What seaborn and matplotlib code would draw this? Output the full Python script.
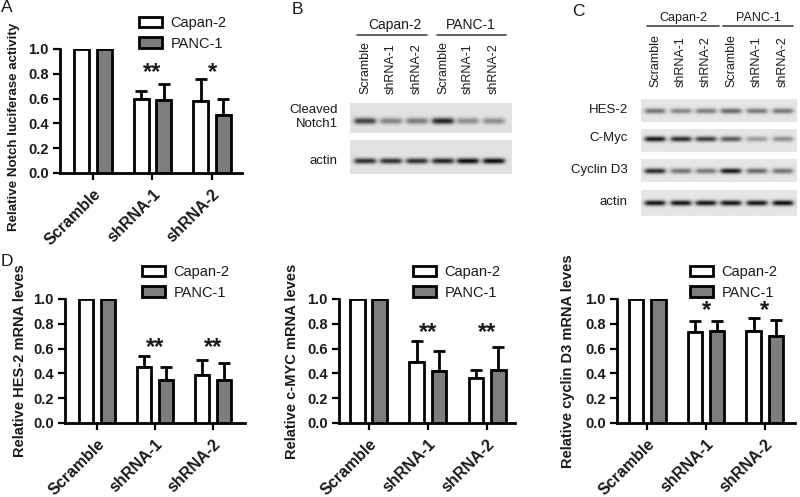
import numpy as np
import pandas as pd
import matplotlib
matplotlib.use("Agg")
import matplotlib.pyplot as plt
import seaborn as sns

# ---------------- data ----------------
groups = ["Scramble", "shRNA-1", "shRNA-2"]
lines = ["Capan-2", "PANC-1"]

notch_capan = [1.00, 0.60, 0.58]
notch_capan_sd = [0.0, 0.06, 0.18]
notch_panc = [1.00, 0.59, 0.47]
notch_panc_sd = [0.0, 0.13, 0.13]
notch_stars = ["", "**", "*"]
notch_star_y = [0, 0.81, 0.81]

hes_capan = [1.00, 0.45, 0.39]
hes_capan_sd = [0.0, 0.09, 0.12]
hes_panc = [1.00, 0.35, 0.35]
hes_panc_sd = [0.0, 0.10, 0.13]
hes_stars = ["", "**", "**"]
hes_star_y = [0, 0.61, 0.61]

myc_capan = [1.00, 0.49, 0.36]
myc_capan_sd = [0.0, 0.17, 0.07]
myc_panc = [1.00, 0.42, 0.43]
myc_panc_sd = [0.0, 0.16, 0.18]
myc_stars = ["", "**", "**"]
myc_star_y = [0, 0.73, 0.73]

cyc_capan = [1.00, 0.73, 0.74]
cyc_capan_sd = [0.0, 0.09, 0.11]
cyc_panc = [1.00, 0.74, 0.70]
cyc_panc_sd = [0.0, 0.08, 0.13]
cyc_stars = ["", "*", "*"]
cyc_star_y = [0, 0.91, 0.91]

yticks = [0.0, 0.2, 0.4, 0.6, 0.8, 1.0]

# western blot lanes and relative band intensities
lane_labels = ["Scramble", "shRNA-1", "shRNA-2", "Scramble", "shRNA-1", "shRNA-2"]
b_rows = ["Cleaved\nNotch1", "actin"]
b_notch = [0.72, 0.42, 0.45, 0.85, 0.38, 0.38]
b_actin = [0.80, 0.80, 0.80, 0.85, 0.95, 0.95]
c_rows = ["HES-2", "C-Myc", "Cyclin D3", "actin"]
c_hes = [0.50, 0.42, 0.45, 0.55, 0.48, 0.48]
c_myc = [0.90, 0.82, 0.75, 0.60, 0.32, 0.38]
c_cyc = [0.82, 0.50, 0.48, 0.90, 0.55, 0.50]
c_actin = [0.92, 0.92, 0.92, 0.92, 0.92, 0.95]

# ---------------- style ----------------
sns.set_style("ticks")
plt.rcParams["font.family"] = ["Liberation Sans", "DejaVu Sans"]
TXT = "#1a1a1a"
GREY = "#7d7d7d"

W, H = 800, 497
fig = plt.figure(figsize=(8.0, 4.97), dpi=100)

ov = fig.add_axes([0, 0, 1, 1], zorder=-1)
ov.set_xlim(0, W)
ov.set_ylim(H, 0)
ov.axis("off")


def fig_rect(x0, x1, ytop, ybot):
    return [x0 / W, 1 - ybot / H, (x1 - x0) / W, (ybot - ytop) / H]


def bar_panel(rect, xlim, cap, cap_sd, panc, panc_sd, stars, star_y, ylabel,
              ylabel_xy, leg_xy, ylabel_size=10.5):
    ax = fig.add_axes(rect)
    df = pd.DataFrame({
        "group": groups * 2,
        "line": [lines[0]] * 3 + [lines[1]] * 3,
        "value": cap + panc,
    })
    sds = [cap_sd, panc_sd]
    sns.barplot(data=df, x="group", y="value", hue="line", hue_order=lines,
                palette=["white", GREY], edgecolor="black", linewidth=2.0,
                width=0.75, gap=0.33, errorbar=None, ax=ax, zorder=3)
    for cont, sd in zip(ax.containers, sds):
        for bar, e in zip(cont, sd):
            if e <= 0:
                continue
            xc = bar.get_x() + bar.get_width() / 2
            h = bar.get_height()
            ax.errorbar([xc], [h], yerr=[[0], [e]], fmt="none", ecolor="black",
                        elinewidth=2.0, capsize=4.5, capthick=2.0, zorder=2,
                        clip_on=False)
    for i, (s, y) in enumerate(zip(stars, star_y)):
        if s:
            ax.text(i, y, s, ha="center", va="center", fontsize=17,
                    fontweight="bold", color=TXT, clip_on=False)
    ax.set_ylim(0, 1.0)
    ax.set_xlim(*xlim)
    ax.set_yticks(yticks)
    ax.set_yticklabels([f"{t:.1f}" for t in yticks], fontsize=10.5,
                       fontweight="bold", color=TXT)
    ax.set_xticks(range(len(groups)))
    ax.set_xticklabels(groups, rotation=45, ha="right", rotation_mode="anchor",
                       fontsize=11.5, fontweight="bold", color=TXT)
    ax.tick_params(axis="both", width=1.6, length=5, color="black")
    ax.tick_params(axis="x", pad=5)
    ax.tick_params(axis="y", pad=3)
    sns.despine(ax=ax)
    for sp in ("left", "bottom"):
        ax.spines[sp].set_linewidth(2.0)
        ax.spines[sp].set_color("black")
    ax.set_xlabel("")
    ax.set_ylabel(ylabel, fontsize=ylabel_size, fontweight="bold", color=TXT)
    ax.yaxis.set_label_coords(*ylabel_xy)
    ax.patch.set_alpha(0)
    handles, labels = ax.get_legend_handles_labels()
    ax.legend(handles, labels, loc="upper left",
              bbox_to_anchor=(leg_xy[0] / W, 1 - leg_xy[1] / H),
              bbox_transform=fig.transFigure, frameon=False, fontsize=10.5,
              handlelength=1.6, handleheight=0.75, handletextpad=0.55,
              labelspacing=0.45, borderpad=0, borderaxespad=0)
    for t in ax.get_legend().get_texts():
        t.set_color(TXT)
    return ax


# Panel A
bar_panel(fig_rect(60, 242, 49, 173), (-0.55, 2.5), notch_capan, notch_capan_sd,
          notch_panc, notch_panc_sd, notch_stars, notch_star_y,
          "Relative Notch luciferase activity", (-0.22, 0.37), (139, 16),
          ylabel_size=9.6)
# Panel D
bar_panel(fig_rect(65, 245, 299, 423), (-0.55, 2.55), hes_capan, hes_capan_sd,
          hes_panc, hes_panc_sd, hes_stars, hes_star_y,
          "Relative HES-2 mRNA leves", (-0.21, 0.5), (142, 265))
bar_panel(fig_rect(339, 515, 299, 423), (-0.5, 2.47), myc_capan, myc_capan_sd,
          myc_panc, myc_panc_sd, myc_stars, myc_star_y,
          "Relative c-MYC mRNA leves", (-0.23, 0.5), (413, 265))
bar_panel(fig_rect(617, 795, 299, 423), (-0.51, 2.51), cyc_capan, cyc_capan_sd,
          cyc_panc, cyc_panc_sd, cyc_stars, cyc_star_y,
          "Relative cyclin D3 mRNA leves", (-0.236, 0.5), (690, 265))


# ---------------- western blots ----------------
def blot(x0, x1, y0, y1, lanes_x, intens, band_y, sigma, bw, bg=0.89):
    nx, ny = int((x1 - x0) * 4), int((y1 - y0) * 4)
    xs = np.linspace(x0, x1, nx)
    ys = np.linspace(y0, y1, ny)
    img = np.full((ny, nx), bg)
    for cx, d in zip(lanes_x, intens):
        px = 1.0 / (1.0 + np.exp((np.abs(xs - cx) - bw / 2) / 1.3))
        py = np.exp(-0.5 * ((ys - band_y) / sigma) ** 2)
        img -= bg * d * np.outer(py, px)
    ov.imshow(img, cmap="gray", vmin=0, vmax=1, extent=(x0, x1, y1, y0),
              aspect="auto", interpolation="bilinear")


# Panel B
b_lanes = [365, 391, 417, 443, 468, 494]
ov.text(395, 25, "Capan-2", ha="center", va="center", fontsize=10, color=TXT)
ov.text(471, 25, "PANC-1", ha="center", va="center", fontsize=10, color=TXT)
ov.plot([357, 427], [35, 35], color="#444444", lw=1.2)
ov.plot([437, 506], [35, 35], color="#444444", lw=1.2)
for x, lab in zip(b_lanes, lane_labels):
    ov.text(x, 94, lab, rotation=90, ha="center", va="bottom", fontsize=9,
            color=TXT)
blot(350, 512, 103, 133, b_lanes, b_notch, 121, 2.3, 21)
blot(350, 512, 140, 174, b_lanes, b_actin, 161, 2.0, 21)
ov.text(338, 117, b_rows[0], ha="right", va="center", fontsize=9.5, color=TXT,
        linespacing=1.2)
ov.text(338, 161, b_rows[1], ha="right", va="center", fontsize=9.5, color=TXT)

# Panel C
c_lanes = [655, 681, 706, 731, 757, 783]
ov.text(683, 18, "Capan-2", ha="center", va="center", fontsize=9, color=TXT)
ov.text(758, 18, "PANC-1", ha="center", va="center", fontsize=9, color=TXT)
ov.plot([647, 719], [26, 26], color="#444444", lw=1.2)
ov.plot([723, 793], [26, 26], color="#444444", lw=1.2)
for x, lab in zip(c_lanes, lane_labels):
    ov.text(x, 87, lab, rotation=90, ha="center", va="bottom", fontsize=9,
            color=TXT)
c_boxes = [(99, 122, 111), (129, 152, 139), (159, 182, 171), (190, 216, 203)]
for (y0, y1, by), inten in zip(c_boxes, [c_hes, c_myc, c_cyc, c_actin]):
    blot(641, 797, y0, y1, c_lanes, inten, by, 1.9, 20, bg=0.9)
for (y0, y1, by), lab in zip(c_boxes, c_rows):
    ov.text(628, by - 1, lab, ha="right", va="center", fontsize=9.5, color=TXT)

ov.set_xlim(0, W)
ov.set_ylim(H, 0)

# panel letters
for lab, x, y in [("A", 7, 8), ("B", 297, 9), ("C", 578, 12), ("D", 7, 261)]:
    ov.text(x, y, lab, ha="center", va="center", fontsize=12.5, color=TXT)

fig.savefig("out.png", dpi=100)
